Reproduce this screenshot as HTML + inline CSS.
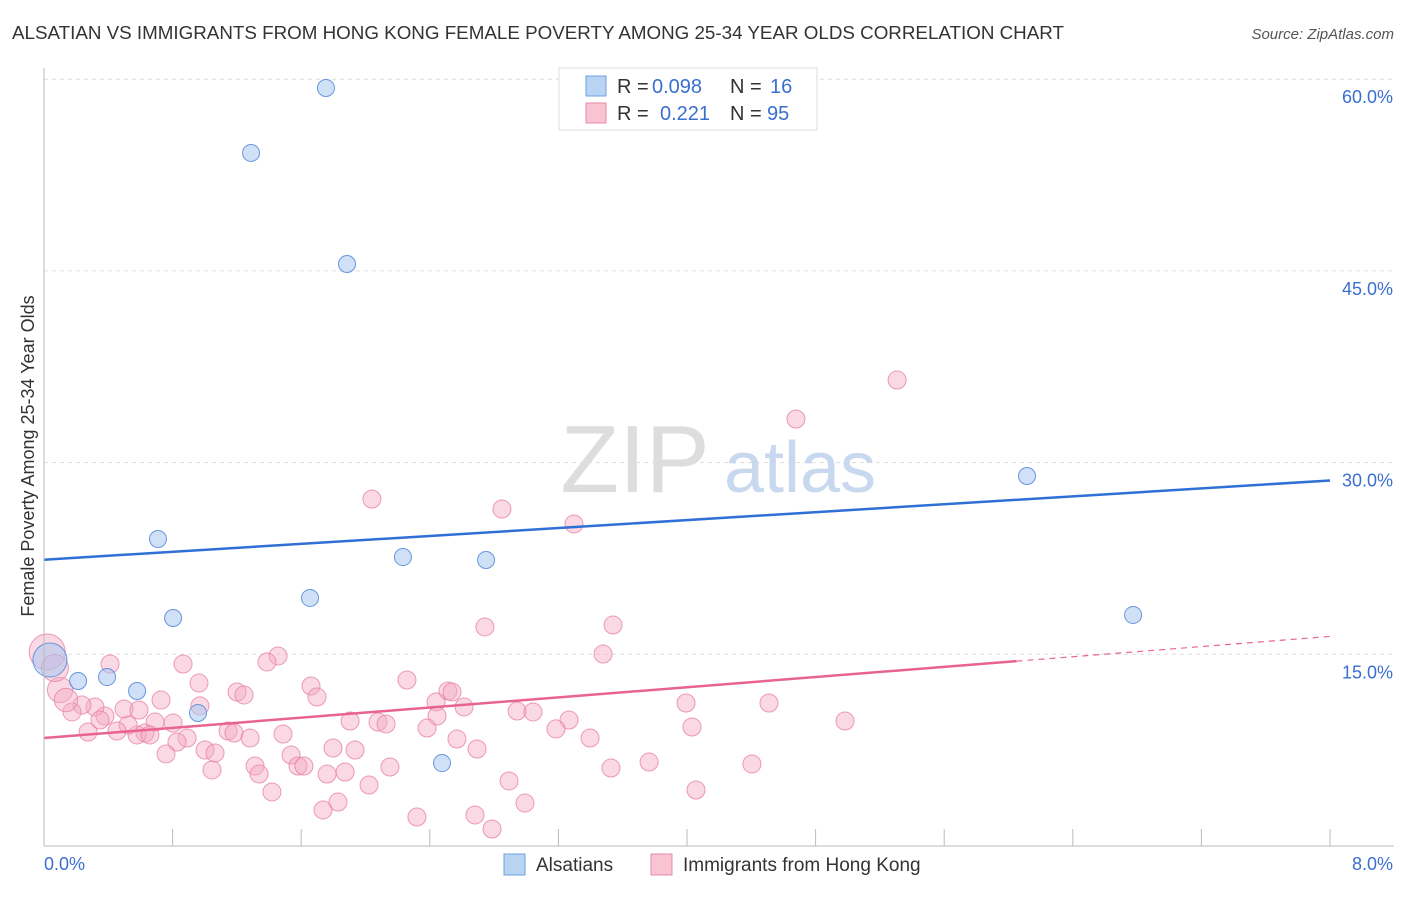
<!DOCTYPE html>
<html><head><meta charset="utf-8"><style>
body{margin:0;background:#fff;font-family:"Liberation Sans",sans-serif}
svg text{font-family:"Liberation Sans",sans-serif}
</style></head><body>
<svg id="chart" width="1406" height="892" xmlns="http://www.w3.org/2000/svg">
<text x="12" y="39" font-size="18.8" fill="#333">ALSATIAN VS IMMIGRANTS FROM HONG KONG FEMALE POVERTY AMONG 25-34 YEAR OLDS CORRELATION CHART</text>
<text x="1394" y="39" font-size="15" font-style="italic" fill="#555" text-anchor="end">Source: ZipAtlas.com</text>
<text transform="translate(34,456) rotate(-90)" font-size="18" fill="#333" text-anchor="middle">Female Poverty Among 25-34 Year Olds</text>
<g id="grid"></g>
<g><text x="635" y="492" font-size="96" font-family="Liberation Serif" fill="#ddd" text-anchor="middle">ZIP</text><text x="800" y="492" font-size="72" fill="#c8d8ee" text-anchor="middle">atlas</text></g>
<g id="marks"></g>
<g id="axes"></g>
<g>
<rect x="559" y="68" width="258" height="62" fill="#fff" stroke="#ddd"/>
<rect x="586" y="76" width="20" height="20" fill="#b9d3f3" stroke="#6f9fe0"/>
<text x="617" y="93" font-size="20" fill="#333">R =</text>
<text x="652" y="93" font-size="20" fill="#3a6fd0">0.098</text>
<text x="730" y="93" font-size="20" fill="#333">N =</text>
<text x="770" y="93" font-size="20" fill="#3a6fd0">16</text>
<rect x="586" y="103" width="20" height="20" fill="#f8c3d3" stroke="#e88aa8"/>
<text x="617" y="120" font-size="20" fill="#333">R =</text>
<text x="660" y="120" font-size="20" fill="#3a6fd0">0.221</text>
<text x="730" y="120" font-size="20" fill="#333">N =</text>
<text x="767" y="120" font-size="20" fill="#3a6fd0">95</text>
</g>
<g>
<rect x="504" y="854" width="21" height="21" fill="#b9d3f3" stroke="#6f9fe0"/>
<text x="536" y="871" font-size="19" fill="#333">Alsatians</text>
<rect x="651" y="854" width="21" height="21" fill="#f8c3d3" stroke="#e88aa8"/>
<text x="683" y="871" font-size="19" fill="#333">Immigrants from Hong Kong</text>
</g>
</svg>
<script>
const xTicks=[0,8];
const yTicks=[15,30,45,60];
const blueX=[1.754,1.288,1.885,0.709,2.233,2.750,1.655,0.803,6.115,6.775,0.212,0.392,0.579,0.958,2.476,0.037];
const blueY=[59.31,54.23,45.54,24.02,22.61,22.38,19.41,17.84,28.95,18.08,12.91,13.22,12.13,10.41,6.49,14.55];
const blueSize=[1,1,1,1,1,1,1,1,1,1,1,1,1,1,1,2];
const pinkX=[5.307,4.678,2.040,2.849,3.297,2.743,3.540,3.478,0.411,0.865,1.456,1.387,1.661,1.698,1.201,1.244,2.258,2.513,2.538,2.439,2.613,2.445,3.994,4.510,4.983,4.031,2.943,3.042,3.266,3.185,3.397,1.904,2.078,2.128,2.383,2.569,2.694,1.935,1.798,1.537,1.580,1.617,1.313,1.338,1.418,1.761,1.873,2.152,2.022,1.736,1.829,2.320,2.681,2.787,2.992,2.893,3.527,3.764,4.404,4.056,0.970,1.145,1.182,1.282,1.487,1.002,1.064,1.045,0.890,0.827,0.759,0.803,0.691,0.728,0.964,0.628,0.579,0.523,0.454,0.379,0.317,0.236,0.174,0.274,0.348,0.498,0.591,0.100,0.137,0.020,0.068,0.659];
const pinkY=[36.46,33.41,27.15,26.37,25.20,17.14,17.29,15.02,14.24,14.24,14.87,14.40,12.52,11.66,12.05,11.82,12.99,12.13,12.05,11.27,10.88,10.17,11.19,11.19,9.78,9.31,10.56,10.49,9.86,9.16,8.45,9.78,9.70,9.55,9.23,8.37,7.59,7.51,7.67,7.12,6.26,6.26,6.26,5.63,4.23,5.63,5.79,6.18,4.77,2.82,3.44,2.27,2.43,1.33,3.36,5.09,6.10,6.57,6.42,4.38,10.96,9.00,8.84,8.45,8.76,7.51,7.28,5.95,8.45,8.14,7.20,9.62,9.70,11.42,12.75,8.84,8.69,9.47,9.00,10.17,10.88,11.03,10.49,8.92,9.86,10.72,10.64,12.21,11.42,15.18,13.93,8.69];
const pinkSize=[1,1,1,1,1,1,1,1,1,1,1,1,1,1,1,1,1,1,1,1,1,1,1,1,1,1,1,1,1,1,1,1,1,1,1,1,1,1,1,1,1,1,1,1,1,1,1,1,1,1,1,1,1,1,1,1,1,1,1,1,1,1,1,1,1,1,1,1,1,1,1,1,1,1,1,1,1,1,1,1,1,1,1,1,1,1,1,1.4,1.3,2.0,1.5,1];
const blueLine=[22.4,28.6];
const pinkLine=[8.45,16.4];
const pinkSolidEnd=6.05;
const X=v=>44+v/8*1286, Y=v=>846-v*12.78;
const NS="http://www.w3.org/2000/svg";
function mk(tag,attrs,parent){const e=document.createElementNS(NS,tag);for(const k in attrs)e.setAttribute(k,attrs[k]);parent.appendChild(e);return e;}
const grid=document.getElementById('grid'),marks=document.getElementById('marks'),axes=document.getElementById('axes');
yTicks.forEach(t=>{
 const l=mk('line',{x1:44,x2:1394,y1:Y(t),y2:Y(t),stroke:'#ddd','stroke-dasharray':'4,4'},grid);
 
 
 const tx=mk('text',{x:1393,y:Y(t)+24,'font-size':18,fill:'#3a6fd0','text-anchor':'end'},axes);
 tx.textContent=t.toFixed(1)+'%';
 
 
});
const ax=mk('line',{x1:44,x2:44,y1:68,y2:846,stroke:'#bbb'},axes);


const bx=mk('line',{x1:44,x2:1394,y1:846,y2:846,stroke:'#bbb'},axes);


for(let i=0;i<=10;i++){const v=i*0.8;const t=mk('line',{x1:X(v),x2:X(v),y1:829,y2:846,stroke:'#bbb'},axes);
 
 }
xTicks.forEach((t,i)=>{const tx=mk('text',{x:i?1393:44,y:870,'font-size':18,fill:'#3a6fd0','text-anchor':i?'end':'start'},axes);
 tx.textContent=t.toFixed(1)+'%';
 
 });
pinkX.forEach((x,i)=>{const c=mk('circle',{cx:X(x),cy:Y(pinkY[i]),r:9*pinkSize[i],fill:'rgba(244,170,195,0.45)',stroke:'rgba(232,130,165,0.8)','stroke-width':1},marks);
 
 });
blueX.forEach((x,i)=>{const c=mk('circle',{cx:X(x),cy:Y(blueY[i]),r:8.5*blueSize[i],fill:'rgba(170,200,240,0.55)',stroke:'rgba(90,140,220,0.9)','stroke-width':1},marks);
 
 });
const bl=mk('line',{x1:X(0),y1:Y(blueLine[0]),x2:X(8),y2:Y(blueLine[1]),stroke:'#2f6fd6','stroke-width':2.5},marks);


const pm=v=>pinkLine[0]+(pinkLine[1]-pinkLine[0])*v/8;
const pl=mk('line',{x1:X(0),y1:Y(pinkLine[0]),x2:X(pinkSolidEnd),y2:Y(pm(pinkSolidEnd)),stroke:'#e8648f','stroke-width':2.5},marks);


const pd=mk('line',{x1:X(pinkSolidEnd),y1:Y(pm(pinkSolidEnd)),x2:X(8),y2:Y(pinkLine[1]),stroke:'#e8648f','stroke-width':1.2,'stroke-dasharray':'6,5'},marks);


</script>
</body></html>
